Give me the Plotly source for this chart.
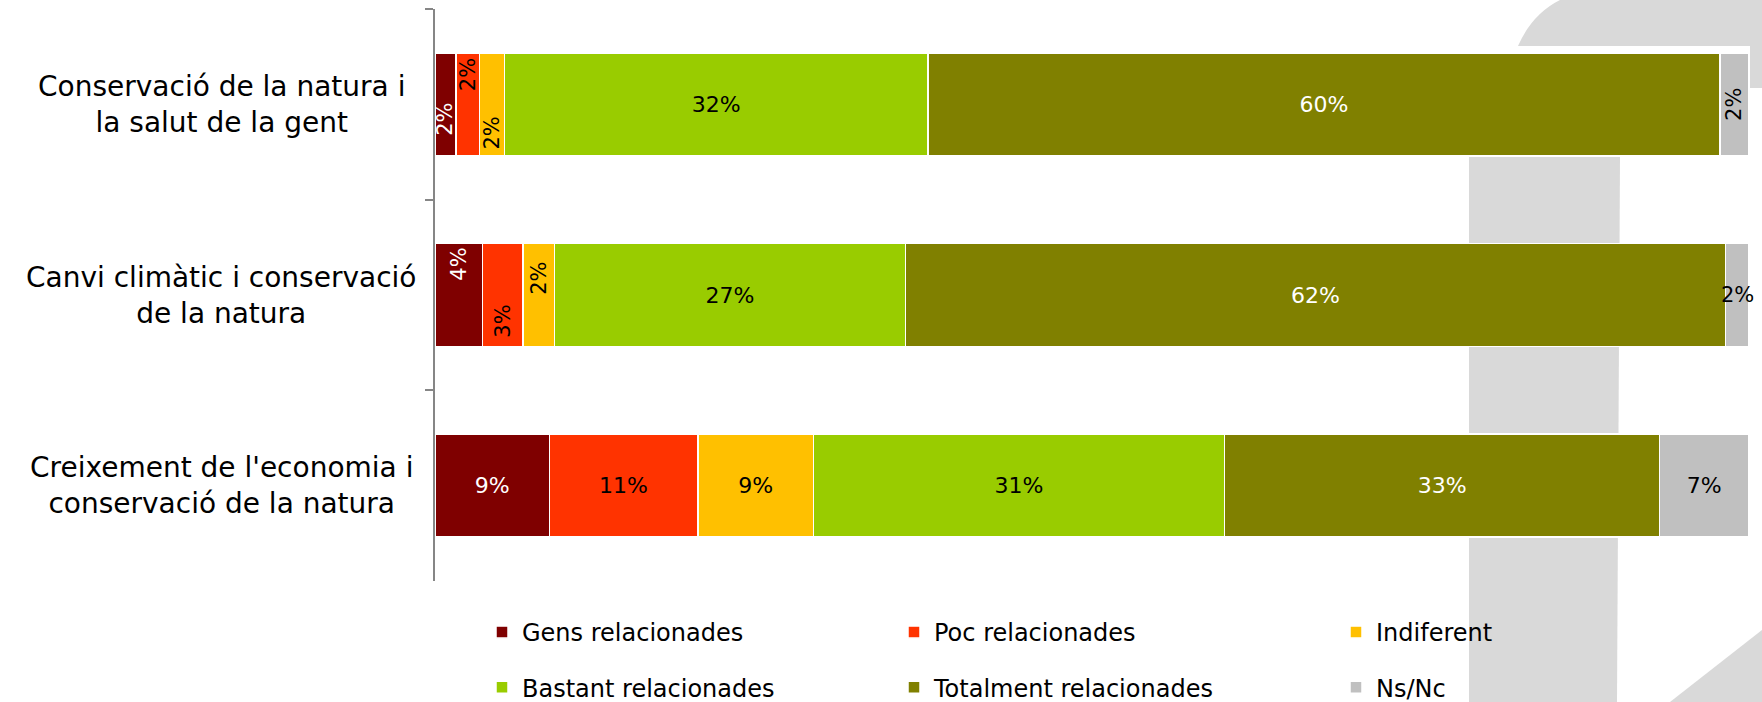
import plotly.graph_objects as go

# categories (top to bottom)
categories = [
    "Conservació de la natura i<br>la salut de la gent",
    "Canvi climàtic i conservació<br>de la natura",
    "Creixement de l'economia i<br>conservació de la natura",
]

# percentages per answer
gens = [1.6, 3.6, 8.7]
poc = [1.8, 3.1, 11.3]
indiferent = [1.9, 2.4, 8.8]
bastant = [32.2, 26.7, 31.3]
totalment = [60.3, 62.4, 33.1]
nsnc = [2.2, 1.8, 6.8]

series_names = ["Gens relacionades", "Poc relacionades", "Indiferent",
                "Bastant relacionades", "Totalment relacionades", "Ns/Nc"]
series_values = [gens, poc, indiferent, bastant, totalment, nsnc]
colors = ["#7F0000", "#FF3300", "#FFC000", "#99CC00", "#808000", "#C0C0C0"]
text_colors = ["white", "black", "black", "black", "white", "black"]

# labels drawn outside the normal bar text: (row, series) -> (angle, yshift)
special_labels = {
    (0, 0): (-90, -15), (0, 1): (-90, 30), (0, 2): (-90, -29), (0, 5): (-90, 0),
    (1, 0): (-90, 31), (1, 1): (-90, -26), (1, 2): (-90, 17), (1, 5): (0, 0),
}

FONT = "DejaVu Sans"
W, H = 1762, 702
L, R, T, B = 435, 13, 9, 121
PW, PH = W - L - R, H - T - B


def to_paper(x, y):
    return (x - L) / PW, (H - B - y) / PH


fig = go.Figure()

legend_ids = ["legend", "legend2", "legend3", "legend", "legend2", "legend3"]
for i, (name, vals) in enumerate(zip(series_names, series_values)):
    texts = []
    for r, v in enumerate(vals):
        texts.append("" if (r, i) in special_labels else f"{v:.0f}%")
    fig.add_trace(go.Bar(
        y=categories, x=vals, name=name, orientation="h",
        marker=dict(color=colors[i], line=dict(color="white", width=1.5)),
        text=texts, textposition="inside", insidetextanchor="middle",
        textangle=0,
        textfont=dict(family=FONT, size=22, color=text_colors[i]),
        legend=legend_ids[i], legendgroup=name,
        hoverinfo="skip",
    ))

# annotations for the tiny segments
annotations = []
for (r, i), (ang, ys) in special_labels.items():
    start = sum(series_values[k][r] for k in range(i))
    v = series_values[i][r]
    annotations.append(dict(
        x=start + v / 2, y=categories[r], xref="x", yref="y",
        text=f"{v:.0f}%", showarrow=False, textangle=ang, yshift=ys,
        font=dict(family=FONT, size=21, color=text_colors[i]),
    ))

# category labels, centred
cx, _ = to_paper(221, 0)
for c in categories:
    annotations.append(dict(
        x=cx, y=c, xref="paper", yref="y", xanchor="center", yanchor="middle",
        text=c, showarrow=False, align="center",
        font=dict(family=FONT, size=28, color="black"),
    ))

# grey watermark behind the chart
def path(points):
    s = ""
    for cmd, pts in points:
        s += cmd + " ".join("%.5f,%.5f" % to_paper(*p) for p in pts) + " "
    return s + "Z"

wm = "#D9D9D9"
shapes = [
    dict(type="path", xref="paper", yref="paper", layer="below",
         fillcolor=wm, line=dict(width=0),
         path=path([("M", [(1518, 46)]), ("Q", [(1532, 14), (1560, 0)]),
                    ("L", [(1762, 0)]), ("L", [(1762, 88)]), ("L", [(1750, 88)]),
                    ("L", [(1750, 46)])])),
    dict(type="path", xref="paper", yref="paper", layer="below",
         fillcolor=wm, line=dict(width=0),
         path=path([("M", [(1469, 702)]), ("L", [(1469, 157)]), ("L", [(1620, 157)]),
                    ("L", [(1617, 702)])])),
    dict(type="path", xref="paper", yref="paper", layer="below",
         fillcolor=wm, line=dict(width=0),
         path=path([("M", [(1670, 702)]), ("L", [(1762, 630)]), ("L", [(1762, 702)])])),
]

# legends are placed on the whole figure so they do not push the plot margins
legend_common = dict(orientation="v", xref="container", yref="container",
                     yanchor="top", y=(H - 610) / H, xanchor="left",
                     bgcolor="rgba(0,0,0,0)", tracegroupgap=21,
                     font=dict(family=FONT, size=24, color="black"))

fig.update_layout(
    barmode="stack",
    bargap=0.46,
    width=W, height=H,
    margin=dict(l=L, r=R, t=T, b=B, autoexpand=False),
    paper_bgcolor="white",
    plot_bgcolor="rgba(0,0,0,0)",
    showlegend=True,
    legend=dict(x=482 / W, **legend_common),
    legend2=dict(x=894 / W, **legend_common),
    legend3=dict(x=1336 / W, **legend_common),
    annotations=annotations,
    shapes=shapes,
    xaxis=dict(range=[0, 100], visible=False, fixedrange=True),
    yaxis=dict(autorange="reversed", showticklabels=False, showgrid=False,
               showline=True, linecolor="#868686", linewidth=1.5,
               ticks="outside", ticklen=8, tickcolor="#868686", tickwidth=1.5,
               tickson="boundaries", zeroline=False, fixedrange=True),
)

# the page body has a default 8px margin; drop it so the figure fills the window
fig.write_html("out.html", config={"displayModeBar": False},
               post_script="document.body.style.margin='0';")
